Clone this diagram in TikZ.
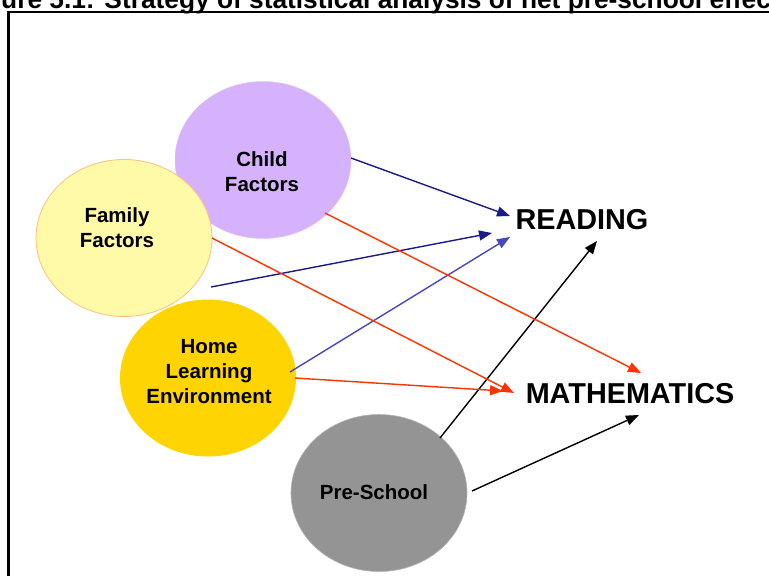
\documentclass[tikz,border=0pt]{standalone}
\usepackage{fontspec}
\setmainfont{Liberation Sans}
\usetikzlibrary{shapes.geometric,arrows.meta,calc}
\definecolor{purp}{HTML}{D6B2FC}
\definecolor{famy}{HTML}{FFFAA8}
\definecolor{famb}{HTML}{FFC080}
\definecolor{gold}{HTML}{FFD400}
\definecolor{grayc}{HTML}{949494}
\definecolor{redc}{HTML}{FF3300}
\definecolor{navyc}{HTML}{1A1A8C}
\definecolor{bluec}{HTML}{4848B8}
\tikzset{
  ell/.style={ellipse, minimum width=176pt, minimum height=157pt, inner sep=0pt},
  lbl/.style={align=center, inner sep=0pt, font=\fontsize{20.5}{25}\selectfont\bfseries},
  big/.style={inner sep=0pt, font=\fontsize{28.8}{32}\selectfont\bfseries},
  arr/.style={-{Triangle[length=13pt,width=10pt]}, line width=1.4pt},
}
\begin{document}
\begin{tikzpicture}[x=1pt,y=-1pt]
\clip (0,0) rectangle (769,576);
\fill[white] (0,0) rectangle (769,576);
% title (clipped at the top, as in the reference)
\node[anchor=base west, inner sep=0pt, font=\fontsize{26.3}{30}\selectfont\bfseries] (title) at (1,8.5) {ure 5.1: Strategy of statistical analysis of net pre-school effects};
% frame
\draw[line width=2.2pt] (8.5,12) rectangle (800,600);
% ellipses
\node[ell, fill=purp, draw=purp!80!white, line width=0.5pt] (child) at (263,160) {};
\node[ell, fill=famy, draw=famb, line width=0.8pt] (family) at (124,238) {};
\node[ell, fill=gold] (home) at (208,378) {};
\node[ell, fill=grayc, draw=grayc!70!white, line width=0.6pt] (pre) at (379,493) {};
% labels
\node[lbl] (childt) at (262,172) {Child\\Factors};
\node[lbl] (familyt) at (117,228) {Family\\Factors};
\node[lbl] (homet) at (209,372) {Home\\Learning\\Environment};
\node[lbl] (pret) at (374,492) {Pre-School};
\node[big] (reading) at (582,220) {READING};
\node[big] (math) at (630,394) {MATHEMATICS};
% arrows to READING
\draw[arr, navyc] ($(child)+(88,-2)$) -- ($(reading)+(-72,-4)$);
\draw[arr, navyc] ($(family)+(87,49)$) -- ($(reading)+(-90,13)$);
\draw[arr, bluec] ($(home)+(82,-6)$) -- ($(reading)+(-72,17)$);
\draw[arr, black] ($(pre)+(61,-55)$) -- ($(reading)+(15,21)$);
% arrows to MATHEMATICS
\draw[arr, redc] ($(child)+(62,53)$) -- ($(math)+(11,-21)$);
\draw[arr, redc] ($(family)+(88,0)$) -- ($(math)+(-116,-1)$);
\draw[arr, redc] ($(home)+(87,0)$) -- ($(math)+(-127,-3)$);
\draw[arr, black] ($(pre)+(93,-2)$) -- ($(math)+(9,21)$);
\end{tikzpicture}
\end{document}
